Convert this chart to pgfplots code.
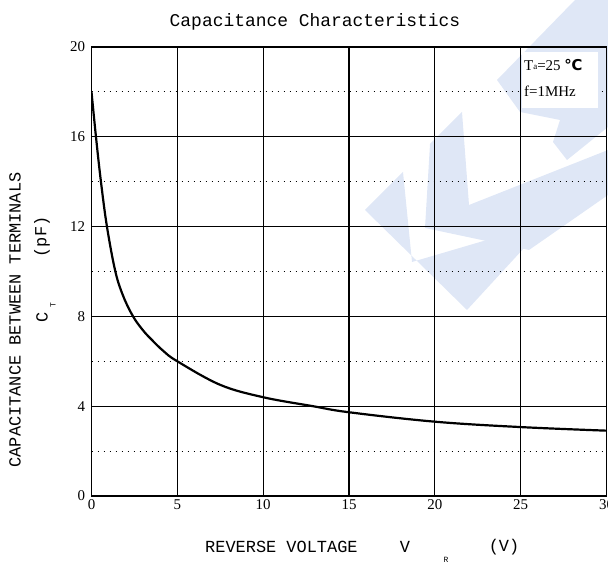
\documentclass[border=0pt]{standalone}
\usepackage{fontspec}
\setmainfont{Liberation Serif}
\setmonofont{Liberation Mono}
\newfontfamily\symfont{DejaVu Sans}
\usepackage{pgfplots}
\pgfplotsset{compat=1.18}
\definecolor{wm}{RGB}{223,231,246}

\begin{document}
\begin{tikzpicture}[x=1bp,y=1bp]
\path[use as bounding box] (0,0) rectangle (608,565);
% faint watermark behind the plot
\fill[wm] (365,355) -- (403,393) -- (412,303) -- (548,343) -- (467,255) -- cycle;
\fill[wm] (430,421) -- (462,453) -- (469,360) -- (608,415) -- (608,370) -- (529,315) -- (425,337) -- cycle;
\fill[wm] (497,485) -- (575,565) -- (608,565) -- (608,438) -- (567,405) -- (553,423) -- (560,445) -- (520,453) -- cycle;

\begin{axis}[
    at={(91.5bp,69bp)}, anchor=south west,
    scale only axis, width=515bp, height=449bp,
    xmin=0, xmax=30, ymin=0, ymax=20,
    xtick={0,5,...,30}, ytick={0,4,...,20},
    minor ytick={2,6,...,18},
    grid=both,
    major grid style={black, line width=1.1bp},
    minor grid style={black, line width=1.1bp, dash pattern=on 1.1bp off 4.9bp},
    axis line style={black, line width=1.2bp},
    major tick length=0pt, minor tick length=0pt,
    tick label style={font=\fontsize{15}{15}\selectfont},
    /pgf/number format/assume math mode=true,
    yticklabel style={xshift=-3bp},
]
\addplot[black, line width=2.2bp, smooth, tension=0.6] coordinates {
    (0,18) (0.26,16) (0.55,14) (0.9,12) (1.39,10) (1.85,8.9)
    (2.42,8.0) (3.0,7.38) (3.52,6.95) (4.2,6.45) (5,6.0) (7.5,4.95)
    (10,4.4) (12.9,4.0) (15,3.73) (20,3.31) (25,3.07) (30,2.91)
};
\end{axis}

% condition box
\fill[white] (522,457) rectangle (598,513);
\node[anchor=west, inner sep=0, font=\fontsize{15}{15}\selectfont] at (524,500)
    {T\raisebox{0.5bp}{\fontsize{9}{9}\selectfont a}=25 {\symfont\bfseries ℃}};
\node[anchor=west, inner sep=0, font=\fontsize{15}{15}\selectfont] at (524,474) {f=1MHz};

% title and labels
\node[font=\ttfamily\fontsize{18}{18}\selectfont] at (315,543) {Capacitance Characteristics};
\node[anchor=west, inner sep=0, font=\ttfamily\fontsize{17}{17}\selectfont] at (205,18) {REVERSE VOLTAGE};
\node[font=\ttfamily\fontsize{17}{17}\selectfont] at (405,18) {V};
\node[font=\ttfamily\fontsize{8}{8}\selectfont] at (446,5) {R};
\node[font=\ttfamily\fontsize{17}{17}\selectfont] at (504,18) {(V)};
\node[rotate=90, font=\ttfamily\fontsize{17}{17}\selectfont] at (15,245) {CAPACITANCE BETWEEN TERMINALS};
\node[rotate=90, font=\ttfamily\fontsize{17}{17}\selectfont] at (42,248) {C};
\node[rotate=90, font=\ttfamily\fontsize{8}{8}\selectfont] at (53,260) {T};
\node[rotate=90, font=\ttfamily\fontsize{17}{17}\selectfont] at (42,328) {(pF)};
\end{tikzpicture}
\end{document}
